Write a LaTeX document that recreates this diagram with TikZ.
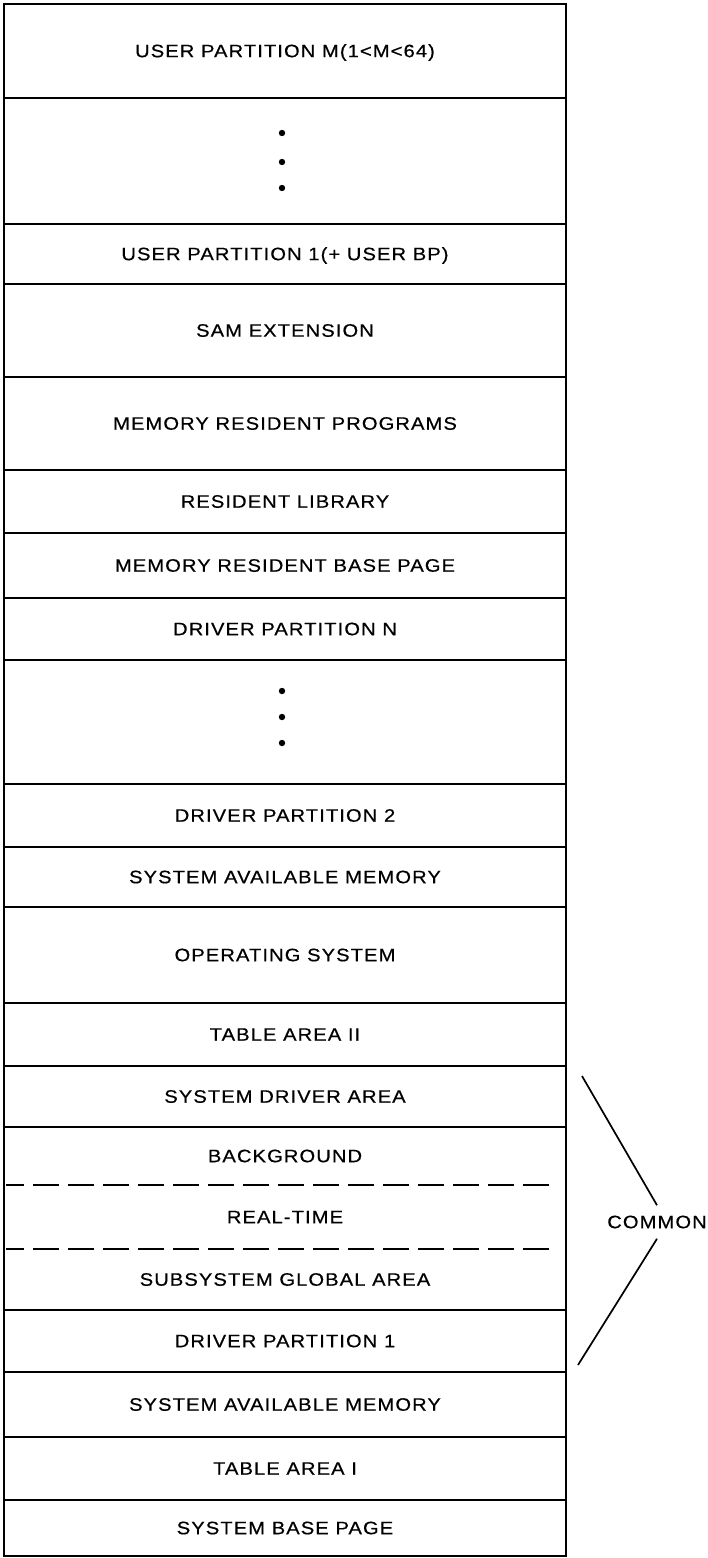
\documentclass[tikz,border=0pt]{standalone}
\usepackage{fontspec}
\newfontfamily\memfont{Liberation Sans}[LetterSpace=6, FakeStretch=1.12, FakeBold=0.5]
\newcommand{\memSize}{\memfont\fontsize{9pt}{11pt}\selectfont}
\tikzset{
    memBlock/.style={
        draw=black, line width=0.95pt, minimum width=281pt, minimum height=#1, inner sep=0pt, outer sep=0pt, align=center, text height=6.2pt, text depth=0pt, font=\memSize
    },
    memBlock/.default=31pt,
    memPart/.style={
        memBlock=#1, draw=none
    },
    memDivider/.style={
        draw=black, line width=0.95pt, dash pattern=on 13pt off 4.5pt, dash phase=4pt
    },
    memDot/.style={
        fill=black
    },
    bracketLine/.style={
        draw=black, line width=0.85pt
    }
}

\begin{document}
\begin{tikzpicture}[x=0.5pt, y=-0.5pt]
    \useasboundingbox (0,0) rectangle (707,1558);

    % ── USER AREA
    \node[memBlock=47pt] (userPartM) at (285, 51) {USER PARTITION M(1<M<64)};
    \node[memBlock=63pt] (userDots) at (285, 161) {};
    \node[memBlock=30pt] (userPart1) at (285, 254) {USER PARTITION 1(+ USER BP)};
    \node[memBlock=46.5pt] (samExt) at (285, 330.5) {SAM EXTENSION};
    \node[memBlock=46.5pt] (memResProg) at (285, 423.5) {MEMORY RESIDENT PROGRAMS};
    \node[memBlock=31.5pt] (resLib) at (285, 501.5) {RESIDENT LIBRARY};
    \node[memBlock=32.5pt] (memResBase) at (285, 565.5) {MEMORY RESIDENT BASE PAGE};

    % ── DRIVER PARTITIONS
    \node[memBlock=31pt] (drvPartN) at (285, 629) {DRIVER PARTITION N};
    \node[memBlock=62pt] (drvDots) at (285, 722) {};
    \node[memBlock=31.5pt] (drvPart2) at (285, 815.5) {DRIVER PARTITION 2};
    \node[memBlock=30pt] (sysAvailHi) at (285, 877) {SYSTEM AVAILABLE MEMORY};
    \node[memBlock=48pt] (opSys) at (285, 955) {OPERATING SYSTEM};
    \node[memBlock=31.5pt] (tableTwo) at (285, 1034.5) {TABLE AREA II};

    % ── COMMON AREA
    \node[memBlock=30.5pt] (sysDrvArea) at (285, 1096.5) {SYSTEM DRIVER AREA};
    \node[memPart=29pt] (bground) at (285, 1156) {BACKGROUND};
    \node[memPart=32pt] (realTime) at (285, 1217) {REAL-TIME};
    \node[memPart=30.5pt] (subGlobal) at (285, 1279.5) {SUBSYSTEM GLOBAL AREA};
    \node[memBlock=31pt] (drvPart1) at (285, 1341) {DRIVER PARTITION 1};

    % ── SYSTEM BASE
    \node[memBlock=32.5pt] (sysAvailLo) at (285, 1404.5) {SYSTEM AVAILABLE MEMORY};
    \node[memBlock=31.5pt] (tableOne) at (285, 1468.5) {TABLE AREA I};
    \node[memBlock=28pt] (sysBase) at (285, 1528) {SYSTEM BASE PAGE};

    % Ellipsis dots
    \foreach \yy in {133, 162, 188} \fill[memDot] (282, \yy) circle[radius=1.6pt];
    \foreach \yy in {691, 717, 743} \fill[memDot] (282, \yy) circle[radius=1.6pt];

    % Common block frame and dashed dividers
    \draw[line width=0.95pt] (bground.north west) rectangle (subGlobal.south east);
    \draw[memDivider] ([xshift=1pt]bground.south west) -- ([xshift=-5pt]bground.south east);
    \draw[memDivider] ([xshift=1pt]realTime.south west) -- ([xshift=-5pt]realTime.south east);

    % COMMON bracket
    \node[font=\memSize, inner sep=5pt] (common) at (657, 1222) {COMMON};
    \coordinate (commonTop) at (582, 1076);
    \coordinate (commonBot) at (578, 1365);
    \draw[bracketLine] (commonTop) -- (common.north);
    \draw[bracketLine] (common.south) -- (commonBot);
\end{tikzpicture}
\end{document}
